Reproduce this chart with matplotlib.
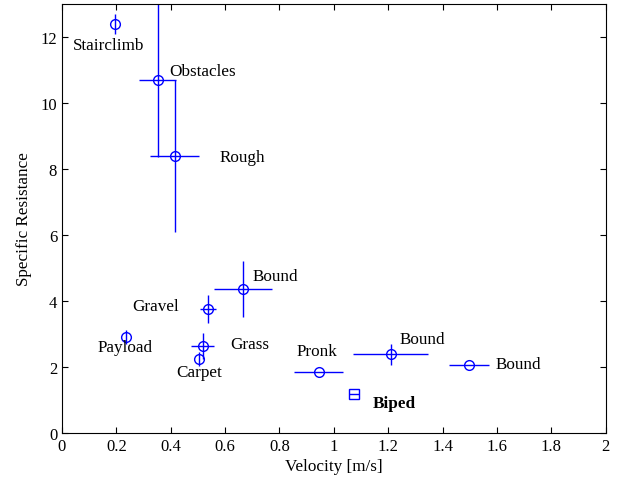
import matplotlib
matplotlib.use("Agg")
import matplotlib.pyplot as plt
import numpy as np

plt.rcParams['font.family'] = ['Liberation Serif', 'DejaVu Serif']

labels = ["Stairclimb", "Obstacles", "Rough", "Bound", "Gravel", "Grass",
          "Carpet", "Payload", "Pronk", "Bound", "Bound"]
velocity = [0.195, 0.353, 0.415, 0.665, 0.537, 0.518, 0.504, 0.235, 0.945, 1.21, 1.496]
resistance = [12.39, 10.7, 8.39, 4.36, 3.76, 2.64, 2.24, 2.91, 1.85, 2.39, 2.06]
vel_err = [0.0, 0.068, 0.09, 0.107, 0.031, 0.042, 0.0, 0.0, 0.09, 0.138, 0.073]
res_err = [0.3, 2.34, 2.3, 0.85, 0.42, 0.4, 0.22, 0.2, 0.0, 0.32, 0.0]
label_x = [0.04, 0.393, 0.58, 0.70, 0.26, 0.62, 0.42, 0.13, 0.864, 1.243, 1.596]
label_y = [11.76, 10.97, 8.36, 4.76, 3.85, 2.7, 1.85, 2.6, 2.48, 2.85, 2.09]

biped_v = [1.074]
biped_r = [1.18]
biped_verr = [0.02]

fig = plt.figure(figsize=(6.2, 4.81), dpi=100)
ax = fig.add_axes([0.1, 0.0977, 0.877, 0.892])
blue = '#0000ff'

ax.errorbar(velocity, resistance, xerr=vel_err, yerr=res_err, fmt='o',
            mfc='none', mec=blue, ecolor=blue, color=blue, ms=7, mew=1.0,
            elinewidth=1.0, capsize=0)
ax.errorbar(biped_v, biped_r, xerr=biped_verr, fmt='s', mfc='none', mec=blue,
            ecolor=blue, ms=6.5, mew=1.0, elinewidth=1.0, capsize=0)

for lab, lx, ly in zip(labels, label_x, label_y):
    ax.text(lx, ly, lab, fontsize=12.3, va='center', ha='left')
ax.text(1.143, 0.91, "Biped", fontsize=12.3, fontweight='bold', va='center', ha='left')

ax.set_xlim(0, 2)
ax.set_ylim(0, 13)
ax.set_xticks(np.arange(0, 2.01, 0.2))
ax.set_xticklabels(["0", "0.2", "0.4", "0.6", "0.8", "1", "1.2", "1.4", "1.6", "1.8", "2"])
ax.set_yticks(np.arange(0, 13, 2))
ax.tick_params(direction='in', top=True, right=True, labelsize=12, length=4)
ax.set_xlabel("Velocity [m/s]", fontsize=12.3, labelpad=3)
ax.set_ylabel("Specific Resistance", fontsize=12.3, labelpad=6)

fig.savefig("out.png", dpi=100)
